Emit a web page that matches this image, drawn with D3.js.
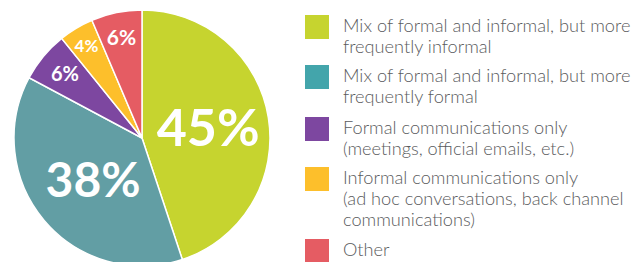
<!DOCTYPE html>
<html>
<head>
<meta charset="utf-8">
<script src="https://cdn.jsdelivr.net/npm/d3@7"></script>
<style>
  body { margin: 0; background: #fff; }
  svg { display: block; }
</style>
</head>
<body>
<div id="chart"></div>
<script>
// share of respondents (clockwise from 12 o'clock)
var categories = [
  ["Mix of formal and informal, but more", "frequently informal"],
  ["Mix of formal and informal, but more", "frequently formal"],
  ["Formal communications only", "(meetings, official emails, etc.)"],
  ["Informal communications only", "(ad hoc conversations, back channel", "communications)"],
  ["Other"]
];
var values = [44.9, 37.9, 6.4, 4.4, 6.4];
var sliceColors = ["#c6d42f", "#629ea4", "#7d47a0", "#fdbf2b", "#e55c63"];
var legendColors = ["#c6d42f", "#43a5ab", "#7d47a0", "#fdbf2b", "#e55c63"];

var svgWidth = 643,
  svgHeight = 262,
  cx = 142,
  cy = 138,
  radius = 128,
  legendX = 305,
  swatchSize = 24,
  textX = 343,
  lineHeight = 21,
  legendTops = [15, 65, 117, 167, 239];

var svg = d3.select("#chart")
  .append("svg")
  .attr("width", svgWidth)
  .attr("height", svgHeight);

var pie = d3.pie().sort(null).value(function(d) { return d; });
var arcs = pie(values);
var arc = d3.arc().innerRadius(0).outerRadius(radius);

var g = svg.append("g").attr("transform", "translate(" + cx + "," + cy + ")");

g.selectAll("path")
  .data(arcs)
  .enter()
  .append("path")
  .attr("d", arc)
  .attr("fill", function(d, i) { return sliceColors[i]; })
  .attr("stroke", "#fff")
  .attr("stroke-width", 1.5);

// big slices get big labels near the middle, small ones near the rim
var labelSizes = [52, 48, 20, 17, 21];
var labelRadius = [67, 64, 100, 108, 103];

g.selectAll("text.pct")
  .data(arcs)
  .enter()
  .append("text")
  .attr("class", "pct")
  .text(function(d) { return Math.round(d.value) + "%"; })
  .attr("transform", function(d, i) {
    var a = (d.startAngle + d.endAngle) / 2;
    var x = Math.sin(a) * labelRadius[i];
    var y = -Math.cos(a) * labelRadius[i] + labelSizes[i] * 0.36;
    return "translate(" + x + "," + y + ")";
  })
  .attr("font-family", "Lato, sans-serif")
  .attr("font-weight", "bold")
  .attr("font-size", function(d, i) { return labelSizes[i] + "px"; })
  .attr("fill", "#fff")
  .style("text-anchor", "middle");

svg.selectAll("rect.swatch")
  .data(categories)
  .enter()
  .append("rect")
  .attr("class", "swatch")
  .attr("x", legendX)
  .attr("y", function(d, i) { return legendTops[i]; })
  .attr("width", swatchSize)
  .attr("height", swatchSize)
  .attr("fill", function(d, i) { return legendColors[i]; });

var items = svg.selectAll("text.legend")
  .data(categories)
  .enter()
  .append("text")
  .attr("class", "legend")
  .attr("x", textX)
  .attr("y", function(d, i) { return legendTops[i] + 17; })
  .attr("font-family", "Lato, sans-serif")
  .attr("font-weight", 300)
  .attr("font-size", "18.2px")
  .attr("fill", "#5a5b5d");

items.selectAll("tspan")
  .data(function(d) { return d; })
  .enter()
  .append("tspan")
  .attr("x", textX)
  .attr("dy", function(d, j) { return j === 0 ? 0 : lineHeight; })
  .text(function(d) { return d; });
</script>
</body>
</html>
